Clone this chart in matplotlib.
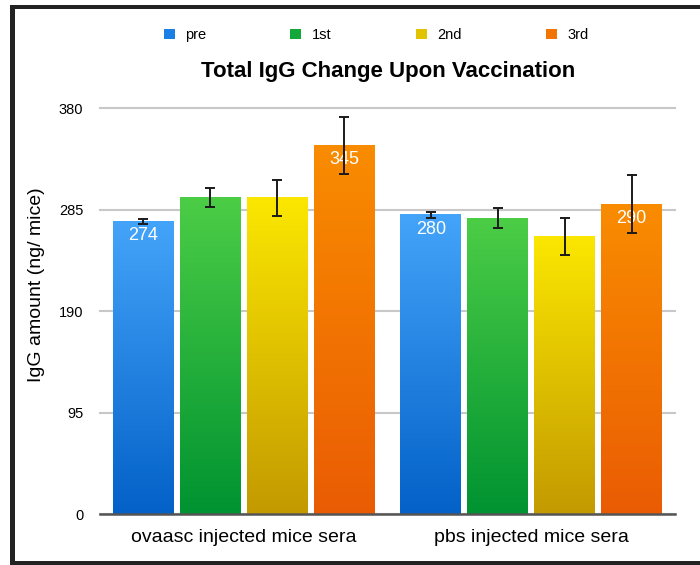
import numpy as np
import matplotlib.pyplot as plt
from matplotlib.colors import LinearSegmentedColormap
from matplotlib.patches import Patch, Rectangle

plt.rcParams['font.family'] = ['Liberation Sans', 'DejaVu Sans']

# Data
groups = ['ovaasc injected mice sera', 'pbs injected mice sera']
series = ['pre', '1st', '2nd', '3rd']
pre = [274, 280]
first = [296, 277]
second = [296, 260]
third = [345, 290]
pre_err = [2.5, 2.5]
first_err = [9, 9]
second_err = [17, 17.5]
third_err = [27, 27]
labelled = ['pre', '3rd']   # series that show the value inside the bar
yticks = [0, 95, 190, 285, 380]

values = [pre, first, second, third]
errors = [pre_err, first_err, second_err, third_err]

# gradient colours (bottom, top) per series
grads = [('#0361c8', '#44a4f9'),
         ('#009331', '#4ccd46'),
         ('#c39a00', '#fbe700'),
         ('#ea5c04', '#f98c00')]
legend_cols = ['#1b7fe4', '#14a83a', '#e2c300', '#f27502']

fig = plt.figure(figsize=(7, 5.65), dpi=100)
ax = fig.add_axes([100/700, 51/565, 575/700, 406/565])

x = np.arange(len(groups))
width = 0.212
step = 0.233

for i, name in enumerate(series):
    xs = x + (i - 1.5) * step
    cmap = LinearSegmentedColormap.from_list(name, grads[i])
    bars = ax.bar(xs, values[i], width, color='none', zorder=2)
    for rect in bars:
        x0 = rect.get_x()
        h = rect.get_height()
        grad = np.linspace(1, 0, 256).reshape(-1, 1)
        ax.imshow(grad, cmap=cmap, aspect='auto', extent=(x0, x0 + width, 0, h),
                  zorder=2, interpolation='bicubic')
    ax.errorbar(xs, values[i], yerr=errors[i], fmt='none', ecolor='#1a1a1a',
                elinewidth=1.4, capsize=3.3, capthick=1.4, zorder=4)
    if name in labelled:
        for xv, v in zip(xs, values[i]):
            ax.annotate(str(v), (xv, v), xytext=(0, -10.5), textcoords='offset points',
                        ha='center', va='center', color='white', fontsize=13, zorder=3.5)

ax.set_xlim(-0.5, 1.5)
ax.set_ylim(0, 380)
ax.set_yticks(yticks)
ax.set_yticklabels([str(t) for t in yticks], fontsize=10.5)
ax.set_xticks(x)
ax.set_xticklabels(groups, fontsize=14)
ax.tick_params(axis='y', length=0, pad=12)
ax.tick_params(axis='x', length=0, pad=11)
ax.yaxis.grid(True, color='#c8c8c8', lw=1.5)
ax.set_axisbelow(True)
for gl in ax.get_ygridlines():
    gl.set_clip_on(False)
for s in ['top', 'right', 'left']:
    ax.spines[s].set_visible(False)
ax.spines['bottom'].set_color('#555555')
ax.spines['bottom'].set_linewidth(1.8)
ax.spines['bottom'].set_zorder(5)

ax.set_ylabel('IgG amount (ng/ mice)', fontsize=14)
ax.yaxis.set_label_coords(-0.0957, 0.564)

fig.text(388/700, 1 - 71/565, 'Total IgG Change Upon Vaccination',
         fontsize=16, fontweight='bold', ha='center', va='center')

handles = [Patch(facecolor=c, edgecolor='none', label=s) for c, s in zip(legend_cols, series)]
fig.legend(handles=handles, loc='center', bbox_to_anchor=(376/700, 1 - 35/565), ncol=4,
           frameon=False, fontsize=10.5, handlelength=0.75, handleheight=0.75,
           handletextpad=0.7, columnspacing=5.8)

# dark frame around the picture (top, left, bottom)
frame_col = '#222222'
fig.add_artist(Rectangle((10/700, 1 - 9/565), 690/700, 4/565, transform=fig.transFigure,
                         color=frame_col, lw=0))
fig.add_artist(Rectangle((10/700, 0), 5/700, 1 - 5/565, transform=fig.transFigure,
                         color=frame_col, lw=0))
fig.add_artist(Rectangle((10/700, 0), 690/700, 4/565, transform=fig.transFigure,
                         color=frame_col, lw=0))

fig.savefig('out.png', dpi=100)
